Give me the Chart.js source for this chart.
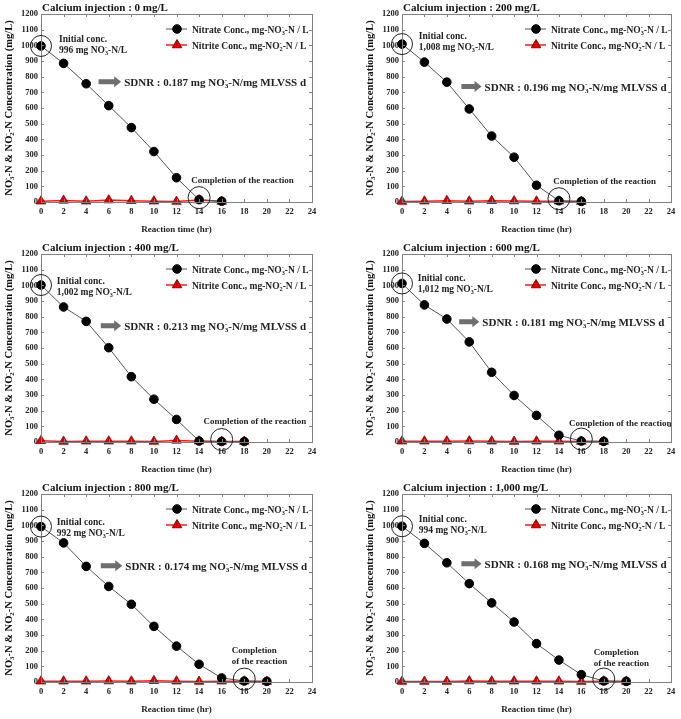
<!DOCTYPE html>
<html>
<head>
<meta charset="utf-8">
<script src="https://cdn.jsdelivr.net/npm/chart.js@4.4.0/dist/chart.umd.min.js"></script>
<style>
  body { margin: 0; background: #fff; width: 681px; height: 719px; position: relative; overflow: hidden; }
  canvas { position: absolute; }
</style>
</head>
<body>
<canvas id="c0" width="340" height="240" style="left:0;top:0"></canvas>
<canvas id="c1" width="341" height="240" style="left:340px;top:0"></canvas>
<canvas id="c2" width="340" height="240" style="left:0;top:240px"></canvas>
<canvas id="c3" width="341" height="240" style="left:340px;top:240px"></canvas>
<canvas id="c4" width="340" height="240" style="left:0;top:480px"></canvas>
<canvas id="c5" width="341" height="240" style="left:340px;top:480px"></canvas>
<script>
const hours = [0, 2, 4, 6, 8, 10, 12, 14, 16, 18, 20];
const doses = ['0', '200', '400', '600', '800', '1,000'];

const nitrate0    = [996, 885, 755, 615, 475, 322, 155, 15, 5];
const nitrate200  = [1008, 893, 765, 594, 421, 286, 107, 8, 4];
const nitrate400  = [1002, 862, 770, 602, 417, 273, 144, 6, 3, 3];
const nitrate600  = [1012, 875, 785, 639, 445, 297, 170, 43, 6, 4];
const nitrate800  = [992, 888, 738, 610, 496, 355, 229, 113, 26, 6, 4];
const nitrate1000 = [994, 885, 761, 628, 505, 383, 245, 140, 47, 6, 4];

const nitrite0    = [5, 10, 5, 12, 8, 5, 3, 12, 3];
const nitrite200  = [3, 5, 8, 5, 8, 6, 5, 5, 3];
const nitrite400  = [8, 3, 5, 5, 5, 3, 10, 5, 3, 3];
const nitrite600  = [5, 5, 5, 6, 5, 3, 5, 5, 3, 3];
const nitrite800  = [5, 5, 5, 6, 5, 8, 5, 3, 5, 5, 3];
const nitrite1000 = [3, 3, 3, 6, 5, 5, 5, 5, 3, 5, 3];

const nitrateSeries = [nitrate0, nitrate200, nitrate400, nitrate600, nitrate800, nitrate1000];
const nitriteSeries = [nitrite0, nitrite200, nitrite400, nitrite600, nitrite800, nitrite1000];

const initialConc = ['996', '1,008', '1,002', '1,012', '992', '994'];
const sdnrValues = ['0.187', '0.196', '0.213', '0.181', '0.174', '0.168'];
const completionHour = [14, 14, 16, 16, 18, 18];
const completionLines = [
  ['Completion of the reaction'], ['Completion of the reaction'],
  ['Completion of the reaction'], ['Completion of the reaction'],
  ['Completion', 'of the reaction'], ['Completion', 'of the reaction']
];

// annotation anchors in data units (hr, mg/L)
const initTextPos = [[1.6, 1040], [1.5, 1057], [1.4, 1030], [1.4, 1049], [1.4, 1022], [1.5, 1041]];
const arrowPos = [[5.1, 7.1, 768], [5.3, 7.1, 737], [5.3, 7.1, 742], [5.1, 6.9, 768], [5.3, 7.2, 742], [5.3, 7.1, 755]];
const completionPos = [[13.3, 133], [13.5, 128], [14.4, 127], [14.9, 118], [16.9, 197], [17.1, 185]];

const SERIF = '"Liberation Serif", "Times New Roman", serif';
const BOX = '#808080';

// draw text made of parts: [text, kind] kind: '', 'sub', 'sup' (sup stacks over preceding sub)
function drawRich(ctx, parts, x, y, size) {
  const small = size * 0.65;
  let cx = x, subStart = null;
  ctx.textBaseline = 'alphabetic';
  ctx.textAlign = 'left';
  parts.forEach(([t, kind]) => {
    if (kind === 'sub') {
      ctx.font = `bold ${small}px ${SERIF}`;
      subStart = cx;
      ctx.fillText(t, cx, y + size * 0.22);
      cx += ctx.measureText(t).width;
    } else if (kind === 'sup') {
      ctx.font = `bold ${small}px ${SERIF}`;
      const sx = subStart !== null ? subStart : cx;
      ctx.fillText(t, sx, y - size * 0.38);
      cx = Math.max(cx, sx + ctx.measureText(t).width);
      subStart = null;
    } else {
      ctx.font = `bold ${size}px ${SERIF}`;
      ctx.fillText(t, cx, y);
      cx += ctx.measureText(t).width;
      subStart = null;
    }
  });
  return cx - x;
}

function richWidth(ctx, parts, size) {
  ctx.save();
  ctx.globalAlpha = 0;
  const w = drawRich(ctx, parts, 0, 0, size);
  ctx.restore();
  return w;
}

const decorPlugin = {
  id: 'decor',
  afterDraw(chart) {
    const { ctx, chartArea: a, scales: { x, y } } = chart;
    const i = chart.options.plugins.decor.index;
    ctx.save();

    // frame and inward ticks
    ctx.strokeStyle = BOX;
    ctx.lineWidth = 1;
    ctx.strokeRect(a.left + 0.5, a.top + 0.5, a.right - a.left, a.bottom - a.top);
    ctx.beginPath();
    x.ticks.forEach(t => {
      const px = Math.round(x.getPixelForValue(t.value)) + 0.5;
      ctx.moveTo(px, a.bottom); ctx.lineTo(px, a.bottom - 3);
      ctx.moveTo(px, a.top); ctx.lineTo(px, a.top + 3);
    });
    y.ticks.forEach(t => {
      const py = Math.round(y.getPixelForValue(t.value)) + 0.5;
      ctx.moveTo(a.left, py); ctx.lineTo(a.left + 3, py);
      ctx.moveTo(a.right, py); ctx.lineTo(a.right - 3, py);
    });
    ctx.stroke();

    ctx.fillStyle = '#111';
    // panel title
    ctx.font = `bold 11px ${SERIF}`;
    ctx.textBaseline = 'middle';
    ctx.fillText(`Calcium injection : ${doses[i]} mg/L`, a.left + 1, a.top - 6);

    // y axis title (rotated)
    const yParts = [['NO', ''], ['3', 'sub'], ['-', 'sup'], ['-N & NO', ''], ['2', 'sub'], ['-', 'sup'], ['-N Concentration (mg/L)', '']];
    const yw = richWidth(ctx, yParts, 10.5);
    ctx.save();
    ctx.translate(a.left - 29, (a.top + a.bottom) / 2);
    ctx.rotate(-Math.PI / 2);
    drawRich(ctx, yParts, -yw / 2, 0, 10.5);
    ctx.restore();

    // legend
    const ds = chart.data.datasets;
    const lx = a.right - 146;
    [[ds[0], ['Nitrate Conc., mg-NO', ''], '3'], [ds[1], ['Nitrite Conc., mg-NO', ''], '2']].forEach(([d, head, sub], k) => {
      const ly = a.top + 15 + k * 16;
      ctx.strokeStyle = d.borderColor;
      ctx.lineWidth = d.borderWidth;
      ctx.beginPath(); ctx.moveTo(lx, ly); ctx.lineTo(lx + 21, ly); ctx.stroke();
      ctx.fillStyle = d.pointBackgroundColor;
      ctx.strokeStyle = d.pointBorderColor;
      ctx.lineWidth = 1;
      Chart.helpers.drawPoint(ctx, { pointStyle: d.pointStyle, radius: d.pointRadius, borderWidth: 1 }, lx + 11, ly);
      ctx.fillStyle = '#222';
      drawRich(ctx, [head, [sub, 'sub'], ['-', 'sup'], ['-N / L', '']], lx + 26, ly + 3.5, 9.5);
    });

    // initial concentration
    const x0 = x.getPixelForValue(0), y0 = y.getPixelForValue(nitrateSeries[i][0]);
    ctx.strokeStyle = '#222';
    ctx.lineWidth = 1;
    ctx.beginPath(); ctx.arc(x0, y0, 10.5, 0, Math.PI * 2); ctx.stroke();
    ctx.fillStyle = '#222';
    const [ix, iy] = initTextPos[i];
    const itx = x.getPixelForValue(ix), ity = y.getPixelForValue(iy);
    ctx.font = `bold 9.5px ${SERIF}`;
    ctx.textBaseline = 'alphabetic';
    ctx.fillText('Initial conc.', itx, ity + 3);
    drawRich(ctx, [[`${initialConc[i]} mg NO`, ''], ['3', 'sub'], ['-', 'sup'], ['-N/L', '']], itx, ity + 14, 9.5);

    // SDNR arrow
    const [ax0, ax1, ay] = arrowPos[i];
    const p0 = x.getPixelForValue(ax0), p1 = x.getPixelForValue(ax1), py = y.getPixelForValue(ay);
    ctx.fillStyle = '#6e6e6e';
    ctx.beginPath();
    ctx.moveTo(p0, py - 2.5); ctx.lineTo(p1 - 7, py - 2.5); ctx.lineTo(p1 - 7, py - 5.5);
    ctx.lineTo(p1, py); ctx.lineTo(p1 - 7, py + 5.5); ctx.lineTo(p1 - 7, py + 2.5);
    ctx.lineTo(p0, py + 2.5); ctx.closePath(); ctx.fill();
    ctx.fillStyle = '#222';
    drawRich(ctx, [[`SDNR : ${sdnrValues[i]} mg NO`, ''], ['3', 'sub'], ['-', 'sup'], ['-N/mg MLVSS d', '']], p1 + 3, py + 4, 11);

    // completion of the reaction
    const ch = completionHour[i];
    const cy = nitrateSeries[i][hours.indexOf(ch)];
    ctx.strokeStyle = '#222';
    ctx.beginPath(); ctx.arc(x.getPixelForValue(ch), y.getPixelForValue(cy) - 2, 11, 0, Math.PI * 2); ctx.stroke();
    const [cx, cyy] = completionPos[i];
    ctx.font = `bold 9px ${SERIF}`;
    ctx.fillStyle = '#222';
    ctx.textBaseline = 'middle';
    completionLines[i].forEach((line, k) => {
      ctx.fillText(line, x.getPixelForValue(cx), y.getPixelForValue(cyy) + k * 11);
    });
    ctx.restore();
  }
};

function makeChart(i) {
  const isRight = i % 2 === 1;
  const n = nitrateSeries[i].length;
  return new Chart(document.getElementById('c' + i), {
    type: 'line',
    data: {
      datasets: [{
        label: 'Nitrate',
        data: nitrateSeries[i].map((v, k) => ({ x: hours[k], y: v })),
        borderColor: '#555',
        borderWidth: 1,
        pointStyle: 'circle',
        pointRadius: 4.3,
        pointBackgroundColor: '#000',
        pointBorderColor: '#000',
        pointBorderWidth: 1,
        clip: false
      }, {
        label: 'Nitrite',
        data: nitriteSeries[i].slice(0, n).map((v, k) => ({ x: hours[k], y: v })),
        borderColor: '#ff1a1a',
        borderWidth: 1.5,
        pointStyle: 'triangle',
        pointRadius: 5.5,
        pointBackgroundColor: '#e00000',
        pointBorderColor: '#8a0000',
        pointBorderWidth: 0.8,
        clip: false
      }]
    },
    options: {
      responsive: false,
      animation: false,
      devicePixelRatio: 1,
      layout: { padding: { left: isRight ? 21 : 0, right: isRight ? 10 : 28, top: 14, bottom: 4 } },
      plugins: { legend: { display: false }, tooltip: { enabled: false }, decor: { index: i } },
      scales: {
        x: {
          type: 'linear', min: 0, max: 24,
          grid: { display: false, drawTicks: false },
          border: { display: false },
          ticks: { stepSize: 2, padding: 5, color: '#222', font: { family: SERIF, size: 8.5, weight: 'bold' } },
          title: { display: true, text: 'Reaction time (hr)', color: '#222', padding: { top: 0, bottom: 1 }, font: { family: SERIF, size: 9, weight: 'bold' } },
          afterFit: s => { s.height = 34; }
        },
        y: {
          min: 0, max: 1200,
          grid: { display: false, drawTicks: false },
          border: { display: false },
          ticks: { stepSize: 100, padding: 3, color: '#222', callback: v => String(v), font: { family: SERIF, size: 8.5, weight: 'bold' } },
          afterFit: s => { s.width = 41; }
        }
      }
    },
    plugins: [decorPlugin]
  });
}

for (let i = 0; i < 6; i++) makeChart(i);
</script>
</body>
</html>
